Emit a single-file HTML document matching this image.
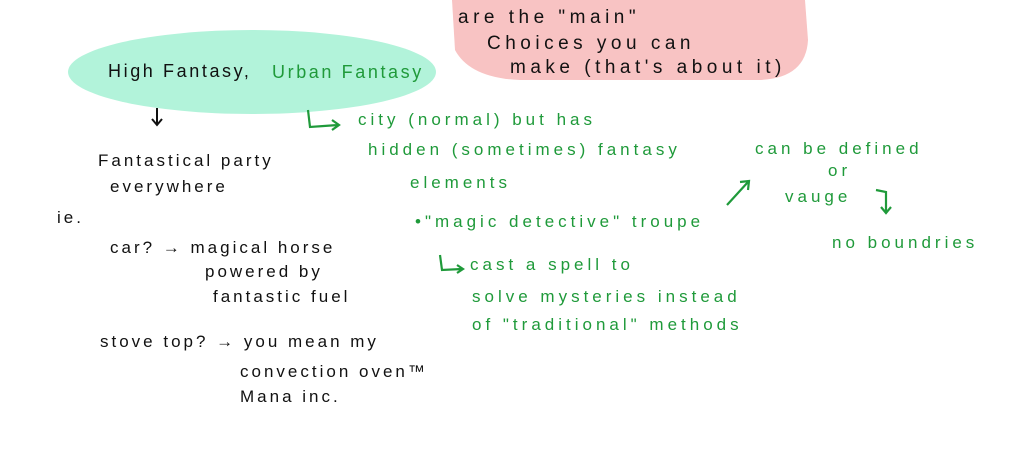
<!DOCTYPE html>
<html><head><meta charset="utf-8"><style>
body{margin:0;width:1024px;height:455px;background:#fff;position:relative;overflow:hidden;font-family:"Liberation Sans",sans-serif;}
.t{position:absolute;white-space:nowrap;font-size:17px;line-height:1;color:#111;letter-spacing:3px;}
.g{color:#1f9a3a;letter-spacing:4px;}
.p{letter-spacing:4.5px;font-size:19px;}
</style></head><body>
<svg width="1024" height="455" style="position:absolute;left:0;top:0">
<path d="M452 0 L805 0 L808 40 Q806 78 760 80 L520 80 Q470 78 455 50 Z" fill="#f8c3c3"/>
<ellipse cx="252" cy="72" rx="184" ry="42" fill="#b2f3da"/>
<g stroke="#111" stroke-width="2" fill="none">
<path d="M157 108 L157 124 M152 119 L157 125 L162 119"/>
</g>
<g stroke="#1f9a3a" stroke-width="2.2" fill="none">
<path d="M308 110 L310 127 L338 125 M332 120 L339 125 L332 130"/>
<path d="M440 255 L442 270 L462 269 M457 265 L463 269 L457 273"/>
<path d="M727 205 L748 182 M740 182 L749 181 L748 190"/>
<path d="M876 190 L886 192 L886 212 M881 207 L886 213 L891 207"/>
</g>
</svg>
<div class="t p" style="left:458px;top:8px">are the "main"</div>
<div class="t p" style="left:487px;top:34px">Choices you can</div>
<div class="t p" style="left:510px;top:58px">make (that's about it)</div>
<div class="t" style="left:108px;top:62px;font-size:18px;letter-spacing:2.6px">High Fantasy,</div>
<div class="t g" style="left:272px;top:63px;font-size:18px;letter-spacing:2.6px">Urban Fantasy</div>
<div class="t" style="left:98px;top:152px">Fantastical party</div>
<div class="t" style="left:110px;top:178px">everywhere</div>
<div class="t" style="left:57px;top:209px">ie.</div>
<div class="t" style="left:110px;top:239px">car? → magical horse</div>
<div class="t" style="left:205px;top:263px">powered by</div>
<div class="t" style="left:213px;top:288px">fantastic fuel</div>
<div class="t" style="left:100px;top:333px">stove top? → you mean my</div>
<div class="t" style="left:240px;top:363px">convection oven™</div>
<div class="t" style="left:240px;top:388px">Mana inc.</div>
<div class="t g" style="left:358px;top:111px">city (normal) but has</div>
<div class="t g" style="left:368px;top:141px">hidden (sometimes) fantasy</div>
<div class="t g" style="left:410px;top:174px">elements</div>
<div class="t g" style="left:415px;top:213px">•"magic detective" troupe</div>
<div class="t g" style="left:470px;top:256px">cast a spell to</div>
<div class="t g" style="left:472px;top:288px">solve mysteries instead</div>
<div class="t g" style="left:472px;top:316px">of "traditional" methods</div>
<div class="t g" style="left:755px;top:140px">can be defined</div>
<div class="t g" style="left:828px;top:162px">or</div>
<div class="t g" style="left:785px;top:188px">vauge</div>
<div class="t g" style="left:832px;top:234px">no boundries</div>
</body></html>
